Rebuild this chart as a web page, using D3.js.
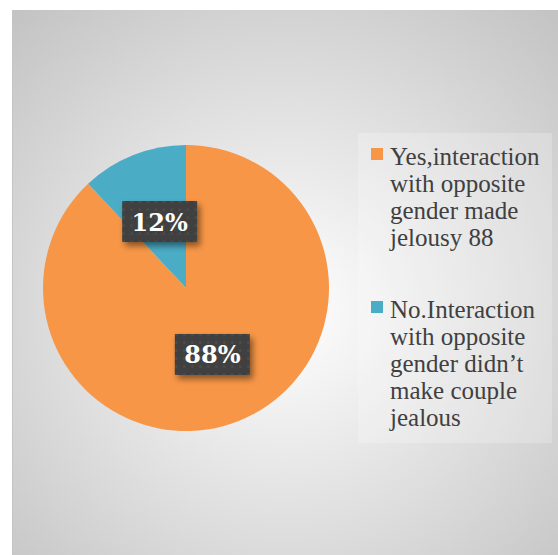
<!DOCTYPE html>
<html>
<head>
<meta charset="utf-8">
<script src="https://cdn.jsdelivr.net/npm/d3@7"></script>
<style>
body { margin: 0; background: #fff; }
svg { display: block; }
</style>
</head>
<body>
<svg id="chart"></svg>
<script>
// data
var categories = ["Yes,interaction with opposite gender made jelousy 88", "No.Interaction with opposite gender didn\u2019t make couple jealous"];
var values = [88, 12];
var labels = ["88%", "12%"];
var legendLines = [
	["Yes,interaction", "with opposite", "gender made", "jelousy 88"],
	["No.Interaction", "with opposite", "gender didn\u2019t", "make couple", "jealous"]
];
var colors = ["#F79646", "#4BACC6"];

var W = 558, H = 555;
var svg = d3.select("#chart").attr("width", W).attr("height", H);
var defs = svg.append("defs");

// background gradient
var bg = defs.append("radialGradient").attr("id", "bg")
	.attr("cx", "50%").attr("cy", "55%").attr("r", "75%");
bg.append("stop").attr("offset", "0%").attr("stop-color", "#ffffff");
bg.append("stop").attr("offset", "100%").attr("stop-color", "#c2c2c2");

// dotted label pattern
var pat = defs.append("pattern").attr("id", "dots")
	.attr("width", 8).attr("height", 8).attr("patternUnits", "userSpaceOnUse");
pat.append("rect").attr("width", 8).attr("height", 8).attr("fill", "#3f3f3f");
pat.append("circle").attr("cx", 4).attr("cy", 4).attr("r", 1.5).attr("fill", "#4c4c4c");

var shadow = defs.append("filter").attr("id", "shadow")
	.attr("x", "-20%").attr("y", "-20%").attr("width", "150%").attr("height", "160%");
shadow.append("feDropShadow").attr("dx", 3).attr("dy", 4).attr("stdDeviation", 3)
	.attr("flood-color", "#000").attr("flood-opacity", 0.45);

svg.append("rect").attr("x", 12).attr("y", 10).attr("width", W - 12).attr("height", H - 10)
	.attr("fill", "url(#bg)");
svg.append("line").attr("x1", 12.5).attr("x2", 12.5).attr("y1", 10).attr("y2", H)
	.attr("stroke", "#c4c4c4").attr("stroke-width", 1);

// legend background
svg.append("rect").attr("x", 358).attr("y", 133).attr("width", 194).attr("height", 310)
	.attr("fill", "#fff").attr("opacity", 0.22);

// pie
var cx = 186, cy = 288, r = 143;
var pie = d3.pie().sort(null).value(function(d){ return d; });
var arc = d3.arc().innerRadius(0).outerRadius(r);
var g = svg.append("g").attr("transform", "translate(" + cx + "," + cy + ")");
var arcs = pie(values);
g.selectAll("path").data(arcs).enter().append("path")
	.attr("d", arc)
	.attr("fill", function(d, i){ return colors[i]; });

// data labels
var labelArc = d3.arc().innerRadius(r * 0.5).outerRadius(r * 0.5);
var lab = g.selectAll("g.lab").data(arcs).enter().append("g").attr("class", "lab")
	.attr("transform", function(d){ var c = labelArc.centroid(d); return "translate(" + c[0] + "," + c[1] + ")"; });
lab.append("rect").attr("x", -37.5).attr("y", -20.5).attr("width", 75).attr("height", 41)
	.attr("fill", "url(#dots)").attr("filter", "url(#shadow)");
lab.append("text").attr("text-anchor", "middle").attr("y", 9)
	.attr("font-family", "'DejaVu Serif', serif").attr("font-weight", "bold")
	.attr("font-size", 24).attr("fill", "#fff")
	.text(function(d, i){ return labels[i]; });

// legend
var legendTop = [157, 310];
var lg = svg.selectAll("g.leg").data(categories).enter().append("g").attr("class", "leg");
lg.append("rect").attr("x", 371).attr("y", function(d, i){ return legendTop[i] - 9; })
	.attr("width", 12).attr("height", 12).attr("fill", function(d, i){ return colors[i]; });
lg.each(function(d, i){
	var t = d3.select(this).append("text")
		.attr("font-family", "'Liberation Serif', serif").attr("font-size", 25)
		.attr("fill", "#404040");
	legendLines[i].forEach(function(line, j){
		t.append("tspan").attr("x", 390).attr("y", legendTop[i] + 8 + j * 27).text(line);
	});
});
</script>
</body>
</html>
